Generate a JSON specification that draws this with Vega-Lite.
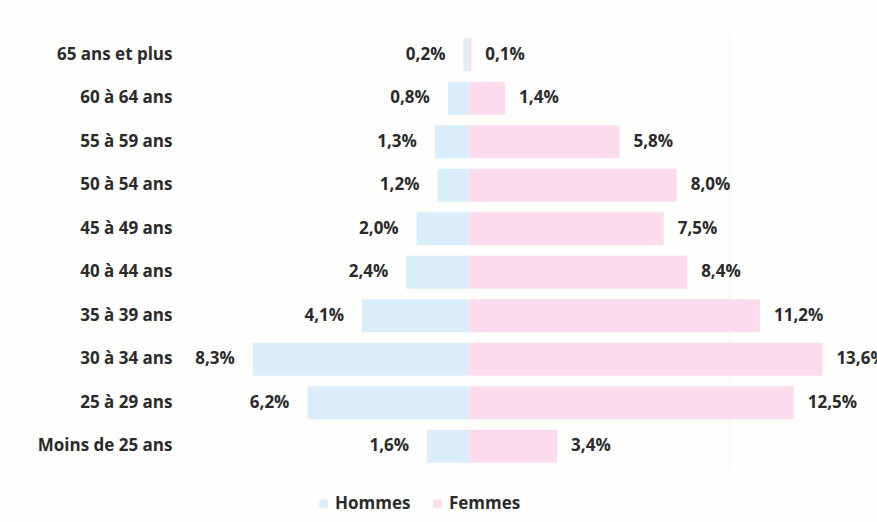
{
  "$schema": "https://vega.github.io/schema/vega-lite/v6.json",
  "autosize": {"type": "none"},
  "width": 697,
  "height": 435,
  "padding": {"left": 180, "top": 33, "right": 0, "bottom": 54},
  "background": "#fefefc",
  "config": {
    "view": {"stroke": null},
    "font": "Open Sans",
    "text": {"font": "Open Sans"}
  },
  "data": {
    "values": [
      {"age": "65 ans et plus", "sexe": "Hommes", "valeur": -0.2, "label": "0,2%"},
      {"age": "65 ans et plus", "sexe": "Femmes", "valeur": 0.1, "label": "0,1%"},
      {"age": "60 à 64 ans", "sexe": "Hommes", "valeur": -0.8, "label": "0,8%"},
      {"age": "60 à 64 ans", "sexe": "Femmes", "valeur": 1.4, "label": "1,4%"},
      {"age": "55 à 59 ans", "sexe": "Hommes", "valeur": -1.3, "label": "1,3%"},
      {"age": "55 à 59 ans", "sexe": "Femmes", "valeur": 5.8, "label": "5,8%"},
      {"age": "50 à 54 ans", "sexe": "Hommes", "valeur": -1.2, "label": "1,2%"},
      {"age": "50 à 54 ans", "sexe": "Femmes", "valeur": 8.0, "label": "8,0%"},
      {"age": "45 à 49 ans", "sexe": "Hommes", "valeur": -2.0, "label": "2,0%"},
      {"age": "45 à 49 ans", "sexe": "Femmes", "valeur": 7.5, "label": "7,5%"},
      {"age": "40 à 44 ans", "sexe": "Hommes", "valeur": -2.4, "label": "2,4%"},
      {"age": "40 à 44 ans", "sexe": "Femmes", "valeur": 8.4, "label": "8,4%"},
      {"age": "35 à 39 ans", "sexe": "Hommes", "valeur": -4.1, "label": "4,1%"},
      {"age": "35 à 39 ans", "sexe": "Femmes", "valeur": 11.2, "label": "11,2%"},
      {"age": "30 à 34 ans", "sexe": "Hommes", "valeur": -8.3, "label": "8,3%"},
      {"age": "30 à 34 ans", "sexe": "Femmes", "valeur": 13.6, "label": "13,6%"},
      {"age": "25 à 29 ans", "sexe": "Hommes", "valeur": -6.2, "label": "6,2%"},
      {"age": "25 à 29 ans", "sexe": "Femmes", "valeur": 12.5, "label": "12,5%"},
      {"age": "Moins de 25 ans", "sexe": "Hommes", "valeur": -1.6, "label": "1,6%"},
      {"age": "Moins de 25 ans", "sexe": "Femmes", "valeur": 3.4, "label": "3,4%"}
    ]
  },
  "encoding": {
    "y": {
      "field": "age",
      "type": "nominal",
      "sort": null,
      "scale": {"paddingInner": 0.24, "paddingOuter": 0.12},
      "axis": {
        "title": null,
        "domain": false,
        "ticks": false,
        "labelFont": "Open Sans",
        "labelFontSize": 17,
        "labelFontWeight": "bold",
        "labelColor": "#2b2b2b",
        "labelPadding": 8
      }
    },
    "x": {
      "field": "valeur",
      "type": "quantitative",
      "scale": {"domain": [-11.1, 15.7], "nice": false, "zero": false},
      "axis": {
        "title": null,
        "values": [10],
        "labels": false,
        "ticks": false,
        "domain": false,
        "grid": true,
        "gridColor": "#f2f2f2"
      }
    }
  },
  "layer": [
    {
      "mark": {"type": "bar"},
      "encoding": {
        "color": {
          "field": "sexe",
          "type": "nominal",
          "scale": {"domain": ["Hommes", "Femmes"], "range": ["#d9eefa", "#fcdcec"]},
          "legend": {
            "title": null,
            "orient": "none",
            "legendX": 135,
            "legendY": 462,
            "direction": "horizontal",
            "symbolType": "square",
            "symbolSize": 70,
            "symbolStrokeWidth": 0,
            "labelFont": "Open Sans",
            "labelFontSize": 17,
            "labelFontWeight": "bold",
            "labelColor": "#2b2b2b",
            "columnPadding": 18,
            "labelOffset": 3
          }
        }
      }
    },
    {
      "transform": [{"filter": "datum.sexe === 'Hommes'"}],
      "mark": {"type": "text", "align": "right", "dx": -18, "fontSize": 17, "fontWeight": "bold", "color": "#2b2b2b", "font": "Open Sans"},
      "encoding": {"text": {"field": "label"}}
    },
    {
      "transform": [{"filter": "datum.sexe === 'Femmes'"}],
      "mark": {"type": "text", "align": "left", "dx": 14, "fontSize": 17, "fontWeight": "bold", "color": "#2b2b2b", "font": "Open Sans"},
      "encoding": {"text": {"field": "label"}}
    }
  ]
}
